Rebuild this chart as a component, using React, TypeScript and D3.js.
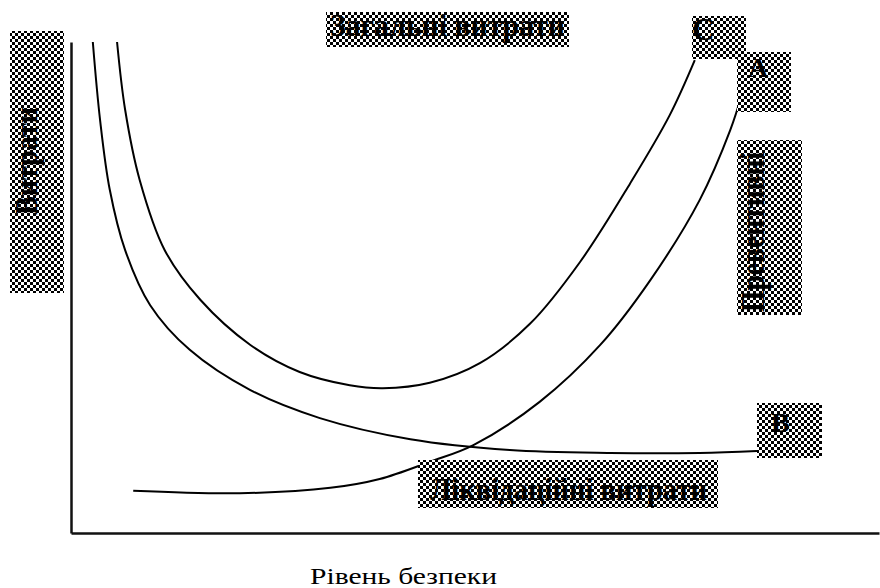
import * as d3 from 'd3'
import { useEffect, useRef } from 'react'

// рівень безпеки (x) і витрати (y), умовні одиниці 0..100
const totalLevel = [5.7, 6.7, 8.5, 11.6, 16.0, 22.2, 28.3, 34.5, 38.6, 44.4, 50.6, 56.8, 63.0, 69.2, 74.1, 77.2]
const totalCost = [100, 86.2, 71.9, 57.6, 47.5, 38.3, 32.8, 30.1, 29.5, 30.6, 34.6, 42.6, 55.2, 71.2, 85.1, 96.3]

const liquidationLevel = [2.7, 3.6, 4.8, 6.7, 9.8, 14.7, 22.2, 30.8, 42.0, 54.3, 66.7, 77.8, 84.9]
const liquidationCost = [100, 84.1, 69.9, 57.6, 46.4, 37.3, 29.1, 23.4, 19.1, 16.9, 16.3, 16.3, 16.7]

const preventiveLevel = [7.7, 20.9, 32.1, 38.2, 44.4, 49.8, 58.0, 65.5, 71.7, 77.8, 81.6, 83.0]
const preventiveCost = [8.6, 8.1, 9.2, 11.0, 14.5, 17.9, 26.7, 38.3, 51.5, 67.8, 82.1, 89.2]

const W = 880
const H = 588
const FONT = '"Liberation Serif", "Times New Roman", serif'

export default function App() {
  const svgRef = useRef<SVGSVGElement>(null)

  useEffect(() => {
    const svg = d3.select(svgRef.current)
    svg.selectAll('*').remove()

    const x = d3.scaleLinear().domain([0, 100]).range([71, 879])
    const y = d3.scaleLinear().domain([0, 100]).range([533, 42])

    // dither pattern for the label boxes
    const pat = svg
      .append('defs')
      .append('pattern')
      .attr('id', 'dither')
      .attr('patternUnits', 'userSpaceOnUse')
      .attr('width', 6)
      .attr('height', 6)
    pat.append('rect').attr('width', 6).attr('height', 6).attr('fill', '#fff')
    pat.append('rect').attr('width', 3).attr('height', 3).attr('fill', '#000')
    pat.append('rect').attr('x', 3).attr('y', 3).attr('width', 3).attr('height', 3).attr('fill', '#000')

    // axes (no ticks)
    svg
      .append('g')
      .attr('transform', `translate(${x(0)},0)`)
      .call(d3.axisLeft(y).ticks(0).tickSizeOuter(0))
      .select('.domain')
      .attr('stroke', '#111')
      .attr('stroke-width', 2.5)
    svg
      .append('g')
      .attr('transform', `translate(0,${y(0)})`)
      .call(d3.axisBottom(x).ticks(0).tickSizeOuter(0))
      .select('.domain')
      .attr('stroke', '#111')
      .attr('stroke-width', 2.5)

    const line = d3
      .line<[number, number]>()
      .x((d) => x(d[0]))
      .y((d) => y(d[1]))
      .curve(d3.curveCatmullRom.alpha(0.5))

    const curves = [
      d3.zip(totalLevel, totalCost),
      d3.zip(liquidationLevel, liquidationCost),
      d3.zip(preventiveLevel, preventiveCost),
    ] as [number, number][][]

    svg
      .append('g')
      .selectAll('path')
      .data(curves)
      .enter()
      .append('path')
      .attr('d', (d) => line(d))
      .attr('fill', 'none')
      .attr('stroke', '#000')
      .attr('stroke-width', 2)

    // label boxes
    const box = (bx: number, by: number, bw: number, bh: number) =>
      svg.append('rect').attr('x', bx).attr('y', by).attr('width', bw).attr('height', bh).attr('fill', 'url(#dither)')

    const label = (tx: number, ty: number, text: string, size: number, len?: number, rotate?: boolean) => {
      const t = svg
        .append('text')
        .attr('x', tx)
        .attr('y', ty)
        .attr('font-family', FONT)
        .attr('font-size', size)
        .attr('font-weight', 'bold')
        .attr('fill', '#000')
        .text(text)
      if (len) t.attr('textLength', len).attr('lengthAdjust', 'spacingAndGlyphs')
      if (rotate) t.attr('transform', `rotate(-90,${tx},${ty})`)
    }

    box(326, 12, 243, 35)
    label(330, 36, 'Загальні витрати', 31, 235)

    box(737, 52, 54, 60)
    label(748, 77, 'A', 28)

    box(692, 16, 54, 43)
    label(692, 40, 'C', 31)

    box(10, 31, 54, 262)
    label(37, 215, 'Витрати', 31, 108, true)

    box(737, 140, 65, 175)
    label(764, 312, 'Превентивні', 33, 160, true)

    box(757, 403, 65, 55)
    label(771, 432, 'B', 28)

    box(418, 460, 300, 48)
    label(430, 500, 'Ліквідаційні витрати', 31, 277)

    svg
      .append('text')
      .attr('x', 310)
      .attr('y', 584)
      .attr('font-family', FONT)
      .attr('font-size', 24)
      .attr('textLength', 187)
      .attr('lengthAdjust', 'spacingAndGlyphs')
      .attr('fill', '#000')
      .text('Рівень безпеки')
  }, [])

  return (
    <svg
      ref={svgRef}
      width={W}
      height={H}
      style={{ position: 'absolute', left: 0, top: 0, background: '#fff' }}
    />
  )
}
